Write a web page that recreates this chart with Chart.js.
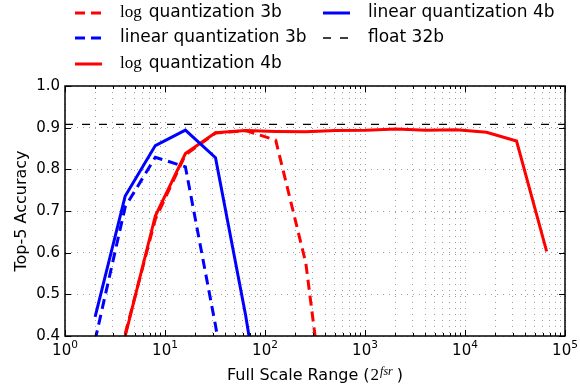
<!DOCTYPE html>
<html>
<head>
<meta charset="utf-8">
<script src="https://cdn.jsdelivr.net/npm/chart.js@4"></script>
<style>
html, body { margin: 0; padding: 0; background: #fff; }
#wrap { width: 580px; height: 389px; }
</style>
</head>
<body>
<div id="wrap"><canvas id="myChart" width="580" height="389"></canvas></div>
<script>
// full scale range values (2^fsr) on the x axis
const fsr = [2, 4, 8, 16, 32, 64, 128, 256, 512, 1024, 2048, 4096, 8192, 16384, 32768, 65536];

// top-5 accuracy, aligned with fsr (null = not measured)
const log3b = [null, 0.405, 0.68, 0.835, 0.887, 0.893, 0.870, 0.575, 0.005];
const lin3b = [0.39, 0.71, 0.829, 0.806, 0.425, 0.005];
const log4b = [null, 0.40, 0.688, 0.838, 0.888, 0.893, 0.891, 0.890, 0.893, 0.894, 0.897, 0.894, 0.895, 0.889, 0.868, 0.603];
const lin4b = [0.446, 0.736, 0.857, 0.894, 0.828, 0.45, 0.005];
const float32 = 0.908;

// x tick labels: 10 with exponent
const xMajor = [1, 10, 100, 1000, 10000, 100000];
const xTickBase = '10';
const xTickExp = ['0', '1', '2', '3', '4', '5'];
const yTitle = 'Top-5 Accuracy';
const xTitle = ['Full Scale Range (', '2', 'fsr', ')'];

const legendItems = [
    {pre: 'log', text: 'quantization 3b', color: '#ff0000', dash: [10, 6], width: 3},
    {pre: '', text: 'linear quantization 3b', color: '#0000ff', dash: [10, 6], width: 3},
    {pre: 'log', text: 'quantization 4b', color: '#ff0000', dash: [], width: 3},
    {pre: '', text: 'linear quantization 4b', color: '#0000ff', dash: [], width: 3},
    {pre: '', text: 'float 32b', color: '#000000', dash: [8, 9], width: 1.3}
];

function pts(vals) {
    return vals.map((v, i) => v === null ? null : {x: fsr[i], y: v}).filter(p => p);
}

// grid positions for the log axis: 1..9 in every decade
const gridValues = [];
for (let e = 0; e < 5; e++) {
    for (let m = 1; m < 10; m++) gridValues.push(m * Math.pow(10, e));
}
gridValues.push(100000);

const gridColor = 'rgba(0,0,0,0.38)';
const gridDash = [1, 5];

const framePlugin = {
    id: 'frame',
    afterDatasetsDraw(chart) {
        const ctx = chart.ctx;
        const a = chart.chartArea;
        const xs = chart.scales.x, ys = chart.scales.y;
        ctx.save();
        ctx.strokeStyle = '#000';
        ctx.lineWidth = 1;
        ctx.setLineDash([]);
        ctx.beginPath();
        xs.ticks.forEach(t => {
            const px = Math.round(xs.getPixelForValue(t.value)) + 0.5;
            const len = xMajor.includes(t.value) ? 6 : 3;
            ctx.moveTo(px, a.bottom); ctx.lineTo(px, a.bottom - len);
            ctx.moveTo(px, a.top); ctx.lineTo(px, a.top + len);
        });
        ys.ticks.forEach(t => {
            const py = Math.round(ys.getPixelForValue(t.value)) + 0.5;
            ctx.moveTo(a.left, py); ctx.lineTo(a.left + 6, py);
            ctx.moveTo(a.right, py); ctx.lineTo(a.right - 6, py);
        });
        ctx.stroke();
        ctx.lineWidth = 1.5;
        ctx.strokeRect(a.left, a.top, a.right - a.left, a.bottom - a.top);
        ctx.restore();
    },
    afterDraw(chart) {
        const ctx = chart.ctx;
        const a = chart.chartArea;
        const xs = chart.scales.x;
        ctx.save();
        ctx.fillStyle = '#000';
        // x tick labels 10^n
        ctx.textBaseline = 'alphabetic';
        xMajor.forEach((v, i) => {
            const px = xs.getPixelForValue(v);
            ctx.font = '15px "DejaVu Sans"';
            const wb = ctx.measureText(xTickBase).width;
            ctx.font = '10.5px "DejaVu Sans"';
            const we = ctx.measureText(xTickExp[i]).width;
            const x0 = px - (wb + we) / 2;
            ctx.font = '15px "DejaVu Sans"';
            ctx.fillText(xTickBase, x0, a.bottom + 19);
            ctx.font = '10.5px "DejaVu Sans"';
            ctx.fillText(xTickExp[i], x0 + wb, a.bottom + 12);
        });
        // legend, two columns filled top to bottom
        const cols = [{lx: 75, tx: 120}, {lx: 323, tx: 368}];
        const rows = [13, 38, 64];
        ctx.textBaseline = 'middle';
        legendItems.forEach((it, i) => {
            const c = cols[Math.floor(i / 3)];
            const y = rows[i % 3];
            ctx.strokeStyle = it.color;
            ctx.lineWidth = it.width;
            ctx.lineCap = 'butt';
            ctx.setLineDash(it.dash);
            ctx.beginPath();
            ctx.moveTo(c.lx, y); ctx.lineTo(c.lx + 27, y);
            ctx.stroke();
            let x = c.tx;
            if (it.pre) {
                ctx.font = '17px "Liberation Serif"';
                ctx.fillText(it.pre, x, y);
                x += ctx.measureText(it.pre).width + 7;
            }
            ctx.font = '17px "DejaVu Sans"';
            ctx.fillText(it.text, x, y);
        });
        ctx.setLineDash([]);
        // x axis title with the 2^fsr part
        const fonts = ['16px "DejaVu Sans"', '17px "Liberation Serif"', 'italic 12px "Liberation Serif"', '16px "DejaVu Sans"'];
        const lifts = [0, 0, -4.5, 0];
        const gaps = [1, 1, 4, 0];
        let total = 0;
        const widths = xTitle.map((s, i) => { ctx.font = fonts[i]; const w = ctx.measureText(s).width; total += w + gaps[i]; return w; });
        let x = (a.left + a.right) / 2 - total / 2;
        ctx.textBaseline = 'alphabetic';
        xTitle.forEach((s, i) => {
            ctx.font = fonts[i];
            ctx.fillText(s, x, 379.5 + lifts[i]);
            x += widths[i] + gaps[i];
        });
        ctx.restore();
    }
};

Chart.defaults.font.family = '"DejaVu Sans"';
Chart.defaults.color = '#000';

const ctx = document.getElementById('myChart').getContext('2d');
const myChart = new Chart(ctx, {
    type: 'line',
    data: {
        datasets: [
            {label: 'log quantization 3b', data: pts(log3b), borderColor: '#ff0000', borderWidth: 3, borderDash: [10, 6], order: 5},
            {label: 'linear quantization 3b', data: pts(lin3b), borderColor: '#0000ff', borderWidth: 3, borderDash: [10, 6], order: 4},
            {label: 'log quantization 4b', data: pts(log4b), borderColor: '#ff0000', borderWidth: 3, order: 3},
            {label: 'linear quantization 4b', data: pts(lin4b), borderColor: '#0000ff', borderWidth: 3, order: 2},
            {label: 'float 32b', data: [{x: 1, y: float32}, {x: 100000, y: float32}], borderColor: '#000000', borderWidth: 1.3, borderDash: [8, 9], order: 1}
        ]
    },
    options: {
        responsive: false,
        animation: false,
        clip: 0,
        elements: {point: {radius: 0}, line: {tension: 0, fill: false, borderCapStyle: 'butt'}},
        layout: {padding: {top: 86, right: 15, left: 0, bottom: 0}},
        plugins: {legend: {display: false}, tooltip: {enabled: false}},
        scales: {
            x: {
                type: 'logarithmic', min: 1, max: 100000,
                afterBuildTicks: s => { s.ticks = gridValues.map(v => ({value: v})); },
                afterFit: s => { s.height = 53; },
                ticks: {display: false, autoSkip: false, maxRotation: 0},
                grid: {color: gridColor, lineWidth: 1, drawTicks: false},
                border: {display: false, dash: gridDash}
            },
            y: {
                min: 0.4, max: 1.0,
                afterFit: s => { s.width = 65; },
                ticks: {stepSize: 0.1, padding: 5, font: {size: 15}, callback: v => v.toFixed(1)},
                grid: {color: gridColor, lineWidth: 1, drawTicks: false},
                border: {display: false, dash: gridDash},
                title: {display: true, text: yTitle, font: {size: 16}, padding: {top: 12, bottom: 0}}
            }
        }
    },
    plugins: [framePlugin]
});
</script>
</body>
</html>
